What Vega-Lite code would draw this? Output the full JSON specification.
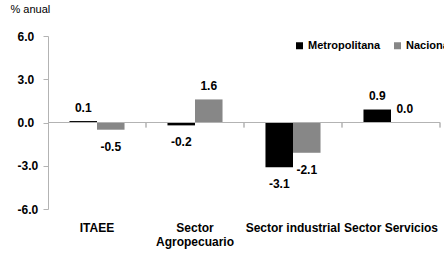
{
  "$schema": "https://vega.github.io/schema/vega-lite/v6.json",
  "width": 392,
  "height": 173,
  "autosize": {"type": "none"},
  "padding": {"left": 48, "top": 36, "right": 4, "bottom": 45},
  "config": {"font": "Liberation Sans", "view": {"stroke": null}},
  "data": {
    "values": [
      {"cat": "ITAEE", "serie": "Metropolitana", "value": 0.1},
      {"cat": "ITAEE", "serie": "Nacional", "value": -0.5},
      {"cat": "Sector Agropecuario", "serie": "Metropolitana", "value": -0.2},
      {"cat": "Sector Agropecuario", "serie": "Nacional", "value": 1.6},
      {"cat": "Sector industrial", "serie": "Metropolitana", "value": -3.1},
      {"cat": "Sector industrial", "serie": "Nacional", "value": -2.1},
      {"cat": "Sector Servicios", "serie": "Metropolitana", "value": 0.9},
      {"cat": "Sector Servicios", "serie": "Nacional", "value": 0.0}
    ]
  },
  "encoding": {
    "y": {
      "field": "value", "type": "quantitative",
      "scale": {"domain": [-6, 6], "nice": false},
      "axis": {
        "values": [-6, -3, 0, 3, 6], "grid": false,
        "labelExpr": "replace(format(datum.value, '.1f'), '\u2212', '-')",
        "domainColor": "#b3b3b3", "tickColor": "#b3b3b3", "tickSize": 5,
        "labelAlign": "left", "labelPadding": 26, "labelBaseline": "middle",
        "labelFontSize": 12, "labelFontWeight": "bold", "labelColor": "#000000",
        "title": "% anual", "titleAngle": 0, "titleX": -38, "titleY": -27,
        "titleAlign": "left", "titleBaseline": "middle", "titleFontSize": 11,
        "titleFontWeight": "normal", "titleColor": "#000000"
      }
    }
  },
  "layer": [
    {
      "mark": {"type": "bar"},
      "encoding": {
        "x": {
          "field": "cat", "type": "nominal",
          "sort": ["ITAEE", "Sector Agropecuario", "Sector industrial", "Sector Servicios"],
          "scale": {"paddingInner": 0, "paddingOuter": 0},
          "axis": {
            "orient": "bottom", "title": null, "domain": false, "ticks": false,
            "labelAngle": 0, "labelPadding": 13, "labelFontSize": 12, "labelFontWeight": "bold",
            "labelColor": "#000000", "labelLineHeight": 14, "labelBaseline": "top",
            "labelExpr": "datum.value == 'Sector Agropecuario' ? ['Sector', 'Agropecuario'] : datum.value"
          }
        },
        "xOffset": {"field": "serie", "type": "nominal", "sort": ["Metropolitana", "Nacional"], "scale": {"paddingInner": 0, "paddingOuter": 0.78}},
        "color": {
          "field": "serie", "type": "nominal",
          "scale": {"domain": ["Metropolitana", "Nacional"], "range": ["#000000", "#878787"]},
          "legend": {
            "orient": "none", "legendX": 246, "legendY": 4, "direction": "horizontal",
            "title": null, "symbolType": "square", "symbolSize": 49, "symbolStrokeWidth": 0,
            "labelFontSize": 11, "labelFontWeight": "bold", "labelColor": "#000000",
            "labelOffset": 3, "columnPadding": 11
          }
        }
      }
    },
    {
      "mark": {"type": "rule", "color": "#b3b3b3", "strokeWidth": 1},
      "encoding": {"y": {"datum": 0}}
    },
    {
      "mark": {"type": "rule", "color": "#b3b3b3", "strokeWidth": 1},
      "encoding": {
        "x": {"field": "cat", "type": "nominal", "bandPosition": 1, "sort": ["ITAEE", "Sector Agropecuario", "Sector industrial", "Sector Servicios"]},
        "y": {"datum": 0},
        "y2": {"datum": -0.35}
      }
    },
    {
      "transform": [{"filter": "datum.value >= 0"}],
      "mark": {"type": "text", "dy": -13.5, "fontSize": 12, "fontWeight": "bold", "color": "#000000",
               "text": {"expr": "replace(format(datum.value, '.1f'), '\u2212', '-')"}},
      "encoding": {
        "x": {"field": "cat", "type": "nominal", "sort": ["ITAEE", "Sector Agropecuario", "Sector industrial", "Sector Servicios"]},
        "xOffset": {"field": "serie", "type": "nominal", "sort": ["Metropolitana", "Nacional"]}
      }
    },
    {
      "transform": [{"filter": "datum.value < 0"}],
      "mark": {"type": "text", "dy": 17, "fontSize": 12, "fontWeight": "bold", "color": "#000000",
               "text": {"expr": "replace(format(datum.value, '.1f'), '\u2212', '-')"}},
      "encoding": {
        "x": {"field": "cat", "type": "nominal", "sort": ["ITAEE", "Sector Agropecuario", "Sector industrial", "Sector Servicios"]},
        "xOffset": {"field": "serie", "type": "nominal", "sort": ["Metropolitana", "Nacional"]}
      }
    }
  ]
}
